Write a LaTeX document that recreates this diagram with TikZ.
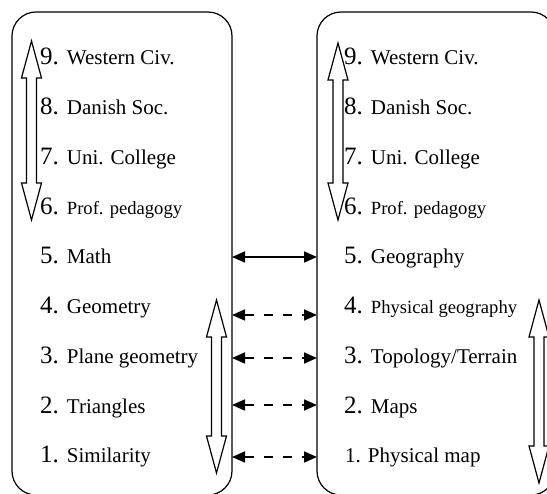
\documentclass[tikz,border=0pt]{standalone}
\usepackage{fontspec}
\setmainfont{Liberation Serif}
\usepackage{tikz}
\usetikzlibrary{arrows.meta}
\newcommand\numsize{\fontsize{25}{25}\selectfont}
\newcommand\lblsize{\fontsize{21}{21}\selectfont}
\newcommand\smlsize{\fontsize{18.6}{19}\selectfont}
\tikzset{
    hollowArrow/.pic={
		\draw[line width=1.2pt, fill=white, line join=miter] (0,0) -- (-10,37) -- (-5,37) -- (-5,#1-37) -- (-10,#1-37) -- (0,#1) -- (10,#1-37) -- (5,#1-37) -- (5,37) -- (10,37) -- cycle;
	}
}
\tikzset{
    levelBox/.style={draw, line width=1.2pt, rounded corners=24pt, inner sep=0pt, outer sep=0pt},
    level/.style={anchor=base west, inner sep=0pt},
    link/.style={line width=1.6pt, {Triangle[length=13pt,width=11pt]}-{Triangle[length=13pt,width=11pt]}},
    dashLink/.style={link, dash pattern=on 9pt off 10pt}
}

\begin{document}
\begin{tikzpicture}[x=1pt, y=-1pt]
			\useasboundingbox (0,0) rectangle (547,494);
			\node[levelBox, minimum width=220pt, minimum height=483pt] (lbox) at (122,253.5) {};
			\node[levelBox, minimum width=238pt, minimum height=483pt] (rbox) at (436,253.5) {};
			% left column
			\node[level] (l9) at (40,65) {{\numsize 9.}\hspace{8pt}{\lblsize Western Civ.}};
			\node[level] (l8) at (40,114.75) {{\numsize 8.}\hspace{8pt}{\lblsize Danish Soc.}};
			\node[level] (l7) at (40,164.5) {{\numsize 7.}\hspace{8pt}{\lblsize Uni. College}};
			\node[level] (l6) at (40,214.25) {{\numsize 6.}\hspace{8pt}{\smlsize Prof. pedagogy}};
			\node[level] (l5) at (40,264) {{\numsize 5.}\hspace{8pt}{\lblsize Math}};
			\node[level] (l4) at (40,313.75) {{\numsize 4.}\hspace{8pt}{\lblsize Geometry}};
			\node[level] (l3) at (40,363.5) {{\numsize 3.}\hspace{8pt}{\lblsize Plane geometry}};
			\node[level] (l2) at (40,413.25) {{\numsize 2.}\hspace{8pt}{\lblsize Triangles}};
			\node[level] (l1) at (40,463) {{\numsize 1.}\hspace{8pt}{\lblsize Similarity}};
			% right column
			\node[level] (r9) at (344,65) {{\numsize 9.}\hspace{8pt}{\lblsize Western Civ.}};
			\node[level] (r8) at (344,114.75) {{\numsize 8.}\hspace{8pt}{\lblsize Danish Soc.}};
			\node[level] (r7) at (344,164.5) {{\numsize 7.}\hspace{8pt}{\lblsize Uni. College}};
			\node[level] (r6) at (344,214.25) {{\numsize 6.}\hspace{8pt}{\smlsize Prof. pedagogy}};
			\node[level] (r5) at (344,264) {{\numsize 5.}\hspace{8pt}{\lblsize Geography}};
			\node[level] (r4) at (344,313.75) {{\numsize 4.}\hspace{8pt}{\smlsize Physical geography}};
			\node[level] (r3) at (344,363.5) {{\numsize 3.}\hspace{8pt}{\lblsize Topology/Terrain}};
			\node[level] (r2) at (344,413.25) {{\numsize 2.}\hspace{8pt}{\lblsize Maps}};
			\node[level] (r1) at (345,463) {\lblsize 1. Physical map};
			\pic at (31.5,41) {hollowArrow=179};
			\pic at (216.5,300) {hollowArrow=173};
			\pic at (338,43) {hollowArrow=177};
			\pic at (539,300) {hollowArrow=183};
			\foreach \i/\y in {5/257,4/315,3/358,2/405,1/457}{
				\coordinate (la\i) at (lbox.east |- 0,\y);
				\coordinate (ra\i) at (rbox.west |- 0,\y);
			}
			\draw[link] (la5) -- (ra5);
			\foreach \i in {4,3,2,1}
				\draw[dashLink] (la\i) -- (ra\i);
		\end{tikzpicture}
\end{document}
